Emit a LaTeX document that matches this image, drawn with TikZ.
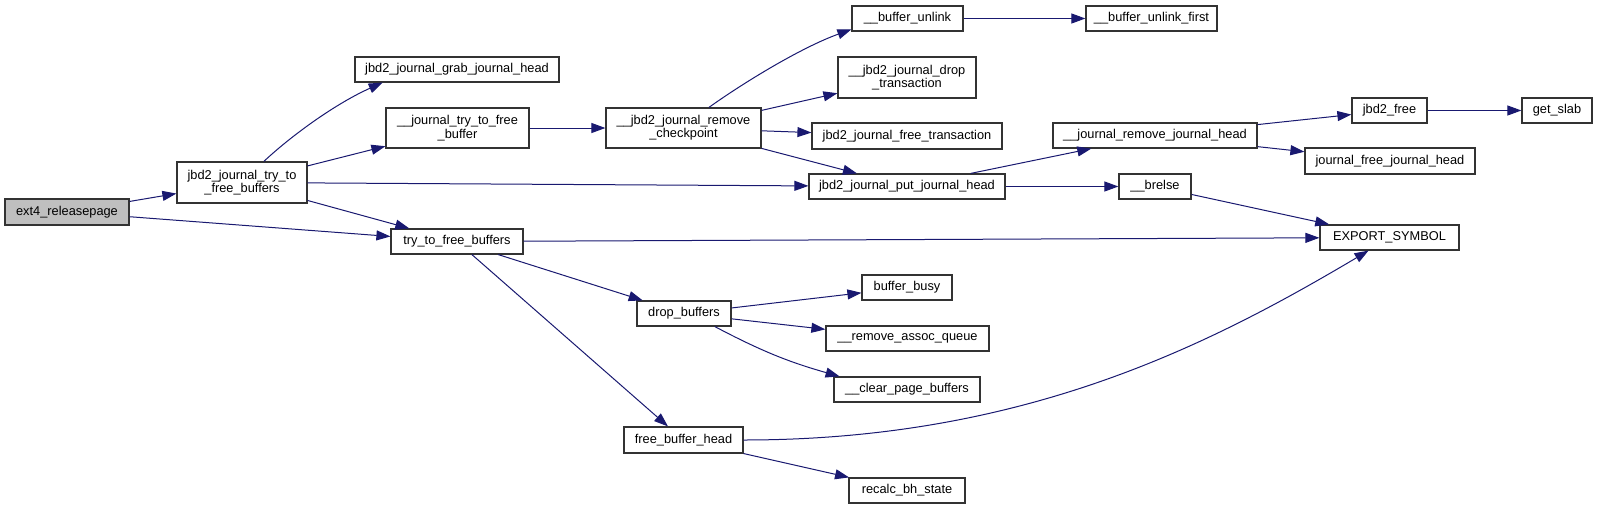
\documentclass[tikz,border=0pt]{standalone}
\usepackage{fontspec}
\setmainfont{Liberation Sans}
\usetikzlibrary{arrows.meta}
\definecolor{edgeblue}{RGB}{25,25,112}
\definecolor{boxgray}{RGB}{191,191,191}

\begin{document}
\begin{tikzpicture}[x=1pt,y=-1pt,box/.style={draw=black!80,fill=white,line width=1.2pt,align=center,inner sep=0pt,minimum height=25pt,font=\fontsize{12.8}{13.3}\selectfont},arr/.style={-{Triangle[length=14pt,width=10pt]},line width=1pt,draw=edgeblue}]
\useasboundingbox (0,0) rectangle (1599,509);

\node[box,fill=boxgray,minimum width=124pt,minimum height=26pt] (a) at(67,212) {ext4\_releasepage};
\node[box,minimum width=130pt,minimum height=41pt] (b) at(242,182.5) {jbd2\_journal\_try\_to\\\_free\_buffers};
\node[box,minimum width=204pt] (c) at(457,69.5) {jbd2\_journal\_grab\_journal\_head};
\node[box,minimum width=143pt,minimum height=40pt] (d) at(457.5,128) {\_\_journal\_try\_to\_free\\\_buffer};
\node[box,minimum width=132pt] (e) at(457,241.5) {try\_to\_free\_buffers};
\node[box,minimum width=155pt,minimum height=40pt] (f) at(683.5,128) {\_\_jbd2\_journal\_remove\\\_checkpoint};
\node[box,minimum width=111pt] (g) at(907.5,18.5) {\_\_buffer\_unlink};
\node[box,minimum width=131pt] (h) at(1151.5,18.5) {\_\_buffer\_unlink\_first};
\node[box,minimum width=138pt,minimum height=41pt] (i) at(907,77.5) {\_\_jbd2\_journal\_drop\\\_transaction};
\node[box,minimum width=190pt,minimum height=26pt] (j) at(907,136) {jbd2\_journal\_free\_transaction};
\node[box,minimum width=196pt] (k) at(907,186.5) {jbd2\_journal\_put\_journal\_head};
\node[box,minimum width=204pt] (l) at(1155,135.5) {\_\_journal\_remove\_journal\_head};
\node[box,minimum width=72pt] (m) at(1155,186.5) {\_\_brelse};
\node[box,minimum width=75pt] (n) at(1389.5,110.5) {jbd2\_free};
\node[box,minimum width=70pt] (o) at(1557,110.5) {get\_slab};
\node[box,minimum width=170pt,minimum height=26pt] (p) at(1390,161) {journal\_free\_journal\_head};
\node[box,minimum width=139pt] (q) at(1389.5,237.5) {EXPORT\_SYMBOL};
\node[box,minimum width=94pt] (r) at(684,313.5) {drop\_buffers};
\node[box,minimum width=90pt] (s) at(907,287.5) {buffer\_busy};
\node[box,minimum width=163pt] (t) at(907.5,338.5) {\_\_remove\_assoc\_queue};
\node[box,minimum width=146pt] (u) at(907,389.5) {\_\_clear\_page\_buffers};
\node[box,minimum width=119pt,minimum height=26pt] (v) at(683.5,440) {free\_buffer\_head};
\node[box,minimum width=116pt] (w) at(907,490.5) {recalc\_bh\_state};

\draw[arr] (a) -- (b);
\draw[arr] (a) -- (e);
\draw[arr] (b.44) .. controls +(30,-28) and +(-45,20) .. (c.190);
\draw[arr] (b) -- (d);
\draw[arr] (b) -- (k);
\draw[arr] (b) -- (e);
\draw[arr] (d) -- (f);
\draw[arr] (f.39) .. controls +(35,-25) and +(-50,18) .. (g.191);
\draw[arr] (f) -- (i);
\draw[arr] (f) -- (j);
\draw[arr] (f) -- (k);
\draw[arr] (g) -- (h);
\draw[arr] (k) -- (l);
\draw[arr] (k) -- (m);
\draw[arr] (l) -- (n);
\draw[arr] (l) -- (p);
\draw[arr] (n) -- (o);
\draw[arr] (m) -- (q);
\draw[arr] (e) -- (q);
\draw[arr] (e) -- (r);
\draw[arr] (e) -- (v);
\draw[arr] (r) -- (s);
\draw[arr] (r) -- (t);
\draw[arr] (r.-23) to[bend right=6] (u.169);
\draw[arr] (v.east) .. controls +(280,0) and +(-160,95) .. (q.212);
\draw[arr] (v) -- (w);
\end{tikzpicture}
\end{document}
